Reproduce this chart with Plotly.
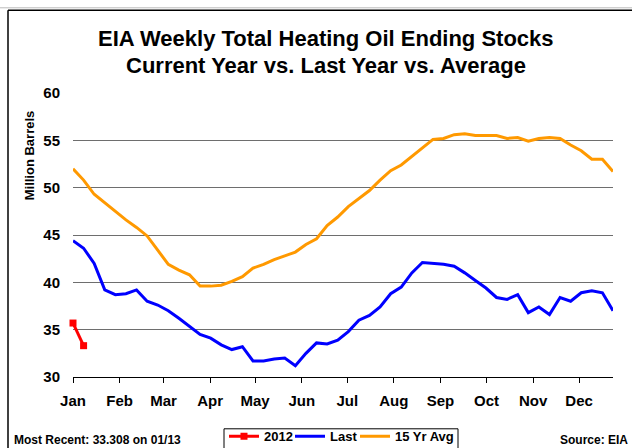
import plotly.graph_objects as go

weeks = list(range(52))
month_labels = ["Jan", "Feb", "Mar", "Apr", "May", "Jun", "Jul", "Aug", "Sep", "Oct", "Nov", "Dec"]
month_pos = [0, 4.4, 8.55, 12.95, 17.2, 21.6, 25.9, 30.3, 34.7, 39.05, 43.45, 47.8]

current_2012 = [35.7, 33.308]

last_year = [44.4, 43.6, 42.0, 39.2, 38.7, 38.8, 39.2, 38.0, 37.6, 37.0,
             36.2, 35.3, 34.5, 34.1, 33.4, 32.9, 33.2, 31.7, 31.7, 31.9,
             32.0, 31.2, 32.5, 33.6, 33.5, 33.9, 34.8, 36.0, 36.5, 37.4,
             38.8, 39.5, 41.0, 42.1, 42.0, 41.9, 41.7, 41.0, 40.2, 39.4,
             38.4, 38.2, 38.7, 36.8, 37.4, 36.6, 38.4, 38.0, 38.9, 39.1,
             38.9, 37.0]

avg_15yr = [52.0, 50.8, 49.3, 48.4, 47.5, 46.6, 45.8, 44.9, 43.4, 41.9,
            41.3, 40.8, 39.6, 39.6, 39.7, 40.1, 40.6, 41.5, 41.9, 42.4,
            42.8, 43.2, 44.0, 44.6, 46.0, 46.9, 48.0, 48.9, 49.7, 50.8,
            51.8, 52.4, 53.3, 54.1, 55.1, 55.2, 55.6, 55.7, 55.5, 55.5,
            55.5, 55.2, 55.3, 54.9, 55.2, 55.3, 55.2, 54.5, 53.9, 53.0,
            53.0, 51.7]

FONT = "Liberation Sans, Arial, sans-serif"

W, H = 632, 448
L, R, T, B = 73, 19, 92.7, 71.3
PW, PH = W - L - R, H - T - B


def px_x(x):
    return (x - L) / PW


def px_y(y):
    return (H - B - y) / PH


fig = go.Figure()
fig.add_trace(go.Scatter(x=weeks[:len(current_2012)], y=current_2012, name="2012",
                         mode="lines+markers", legend="legend", cliponaxis=False,
                         line=dict(color="#FF0000", width=3),
                         marker=dict(symbol="square", size=7, color="#FF0000")))
fig.add_trace(go.Scatter(x=weeks, y=last_year, name="Last", mode="lines", legend="legend2",
                         line=dict(color="#0000FF", width=3)))
fig.add_trace(go.Scatter(x=weeks, y=avg_15yr, name="15 Yr Avg", mode="lines", legend="legend3",
                         line=dict(color="#FF9900", width=3)))

shapes = [
    dict(type="line", xref="paper", yref="paper", x0=px_x(0), x1=px_x(W), y0=px_y(7.5), y1=px_y(7.5),
         line=dict(color="#BBBBBB", width=1)),
    dict(type="line", xref="paper", yref="paper", x0=px_x(8), x1=px_x(W + 5), y0=px_y(10), y1=px_y(10),
         line=dict(color="black", width=1.5)),
    dict(type="line", xref="paper", yref="paper", x0=px_x(8), x1=px_x(8), y0=px_y(10), y1=px_y(H + 5),
         line=dict(color="black", width=1.5)),
    # legend frame
    dict(type="rect", xref="paper", yref="paper", x0=px_x(224), x1=px_x(458), y0=px_y(428.5),
         y1=px_y(H + 5), line=dict(color="black", width=1), fillcolor="rgba(0,0,0,0)"),
]

annotations = [
    dict(text="<b>EIA Weekly Total Heating Oil Ending Stocks</b>", xref="paper", yref="paper",
         x=px_x(326), y=px_y(38), xanchor="center", yanchor="middle", showarrow=False,
         font=dict(family=FONT, size=22, color="black")),
    dict(text="<b>Current Year vs. Last Year vs. Average</b>", xref="paper", yref="paper",
         x=px_x(326), y=px_y(65.5), xanchor="center", yanchor="middle", showarrow=False,
         font=dict(family=FONT, size=22, color="black")),
    dict(text="<b>Million Barrels</b>", xref="paper", yref="paper",
         x=px_x(29), y=px_y(155), xanchor="center", yanchor="middle", showarrow=False, textangle=-90,
         font=dict(family=FONT, size=13, color="black")),
    dict(text="<b>Most Recent: 33.308 on 01/13</b>", xref="paper", yref="paper",
         x=px_x(12), y=px_y(440), xanchor="left", yanchor="middle", showarrow=False,
         font=dict(family=FONT, size=12, color="black")),
    dict(text="<b>Source: EIA</b>", xref="paper", yref="paper",
         x=px_x(630), y=px_y(440), xanchor="right", yanchor="middle", showarrow=False,
         font=dict(family=FONT, size=12, color="black")),
]


def legend_at(xpx):
    return dict(orientation="h", x=px_x(xpx), y=px_y(421), xanchor="left", yanchor="top",
                borderwidth=0, bgcolor="rgba(0,0,0,0)",
                font=dict(family=FONT, size=13, color="black", weight="bold"),
                itemwidth=30, tracegroupgap=0)


fig.update_layout(
    width=W, height=H,
    margin=dict(l=L, r=R, t=T, b=B, pad=0, autoexpand=False),
    paper_bgcolor="white", plot_bgcolor="white",
    font=dict(family=FONT, color="black"),
    showlegend=True,
    legend=legend_at(224),
    legend2=legend_at(290),
    legend3=legend_at(355),
    xaxis=dict(range=[0, 51], tickmode="array", tickvals=month_pos, ticktext=month_labels,
               showgrid=False, zeroline=False, showline=True, linecolor="black", linewidth=1,
               ticks="outside", ticklen=5, tickcolor="black", ticklabelstandoff=5,
               tickfont=dict(family=FONT, size=15, color="black", weight="bold")),
    yaxis=dict(range=[30, 60], tickmode="array", tickvals=[30, 35, 40, 45, 50, 55, 60],
               showgrid=True, gridcolor="#6E6E6E", gridwidth=1, zeroline=False, showline=False,
               ticks="", ticklabelstandoff=12,
               tickfont=dict(family=FONT, size=15, color="black", weight="bold")),
    shapes=shapes,
    annotations=annotations,
)

fig.write_html("out.html", config={"displayModeBar": False},
               post_script="document.body.style.margin='0';document.body.style.overflow='hidden';")
